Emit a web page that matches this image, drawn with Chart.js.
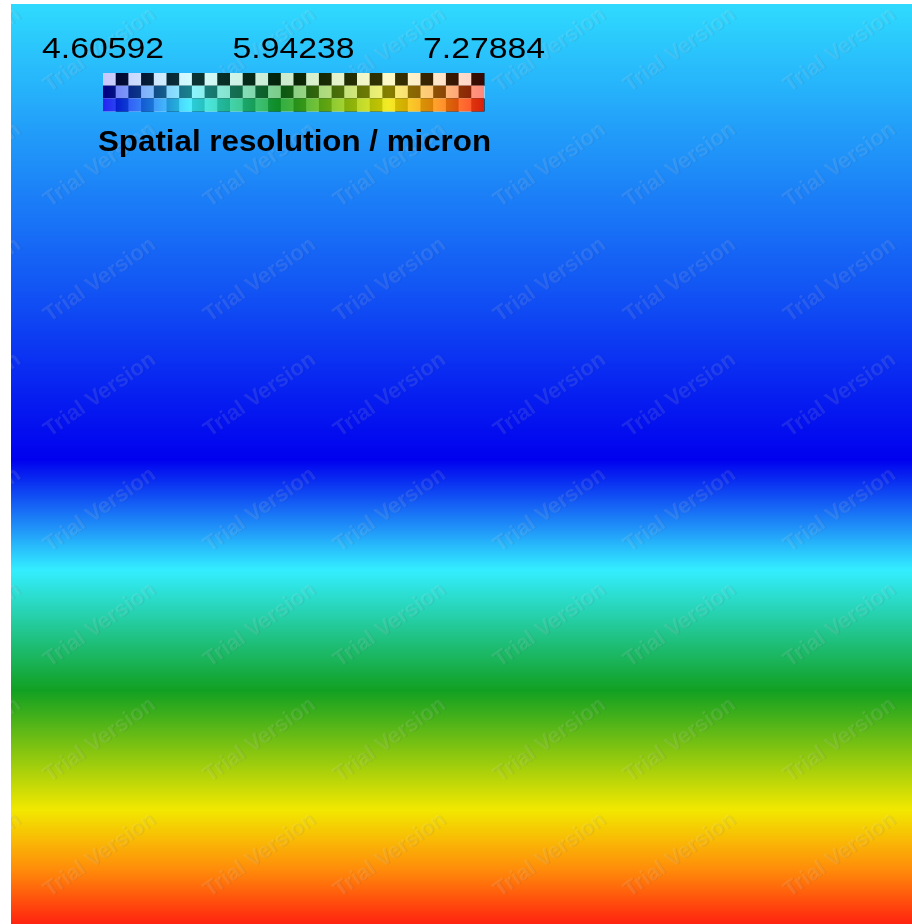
<!DOCTYPE html>
<html>
<head>
<meta charset="utf-8">
<script src="https://cdn.jsdelivr.net/npm/chart.js@4.4.1/dist/chart.umd.min.js"></script>
<style>
  html, body { margin: 0; padding: 0; background: #fff; }
  canvas { display: block; }
</style>
</head>
<body>
<canvas id="myChart" width="912" height="924"></canvas>
<script>
const ctx = document.getElementById('myChart');

// depth below the top edge of the map, and resolution at that depth
const depth = [0, 146, 296, 396, 456, 516, 566, 626, 686, 746, 806, 866, 920];
const resolution = [5.17, 4.99, 4.81, 4.68, 4.606, 4.94, 5.22, 5.54, 5.86, 6.24, 6.61, 6.96, 7.279];

// colour scale
const scaleMin = 4.60592;
const scaleMax = 7.27884;
const tickLabels = ['4.60592', '5.94238', '7.27884'];
const scaleTitle = 'Spatial resolution / micron';

const mapStops = [0, 0.23, 0.47, 0.75, 0.88, 1];
const mapColors = [[0, 0, 238], [51, 238, 255], [17, 160, 34], [242, 232, 0], [255, 140, 10], [255, 35, 15]];

function colorAt(v) {
  let t = (v - scaleMin) / (scaleMax - scaleMin);
  t = Math.max(0, Math.min(1, t));
  let i = 1;
  while (i < mapStops.length - 1 && t > mapStops[i]) i++;
  const f = (t - mapStops[i - 1]) / (mapStops[i] - mapStops[i - 1]);
  const a = mapColors[i - 1], b = mapColors[i];
  return 'rgb(' + a.map((c, k) => Math.round(c + (b[k] - c) * f)).join(',') + ')';
}

// vertical shading of the map, stops placed with the y scale
function mapGradient(context) {
  const chart = context.chart;
  if (!chart.chartArea) return null;
  const y = chart.scales.y;
  const top = y.getPixelForValue(depth[0]);
  const bot = y.getPixelForValue(depth[depth.length - 1]);
  const g = chart.ctx.createLinearGradient(0, top, 0, bot);
  const steps = 12;
  for (let i = 0; i < depth.length - 1; i++) {
    for (let s = 0; s <= steps; s++) {
      const d = depth[i] + (depth[i + 1] - depth[i]) * s / steps;
      const v = resolution[i] + (resolution[i + 1] - resolution[i]) * s / steps;
      const off = (y.getPixelForValue(d) - top) / (bot - top);
      g.addColorStop(Math.max(0, Math.min(1, off)), colorAt(v));
    }
  }
  return g;
}

// faint "Trial Version" stamps across the map
const stampCols = [-35, 100, 260, 390, 550, 680, 840];
const stampRows = [50, 165, 280, 395, 510, 625, 740, 855];
const stampPlugin = {
  id: 'stamps',
  afterDatasetsDraw(chart) {
    const c = chart.ctx;
    const area = chart.chartArea;
    c.save();
    c.beginPath();
    c.rect(area.left, area.top, area.right - area.left, area.bottom - area.top);
    c.clip();
    c.font = 'bold 22px "Liberation Sans", Arial, sans-serif';
    c.textAlign = 'center';
    c.textBaseline = 'middle';
    stampRows.forEach(ry => {
      stampCols.forEach(cx => {
        c.save();
        c.translate(cx, ry);
        c.rotate(-0.61);
        c.fillStyle = 'rgba(0,0,40,0.05)';
        c.fillText('Trial Version', 1, 1);
        c.fillStyle = 'rgba(255,255,255,0.1)';
        c.fillText('Trial Version', 0, 0);
        c.restore();
      });
    });
    c.restore();
  }
};

// text squeezed/stretched to a given width
function fitText(c, text, x, y, width, font, align) {
  c.save();
  c.font = font;
  const m = c.measureText(text).width;
  c.translate(x, y);
  c.scale(width / m, 1);
  c.textAlign = align;
  c.textBaseline = 'alphabetic';
  c.fillText(text, 0, 0);
  c.restore();
}

// colour bar with checkerboard rows
const barBox = { x: 103, y: 73, w: 381, h: 38, cols: 30, rows: 3 };
const rowAlpha = [0.22, 0.55, 0.86];
const colorBarPlugin = {
  id: 'colorBar',
  afterDraw(chart) {
    const c = chart.ctx;
    const b = barBox;
    const cw = b.w / b.cols, rh = b.h / b.rows;
    const g = c.createLinearGradient(b.x, 0, b.x + b.w, 0);
    for (let k = 0; k <= 60; k++) {
      g.addColorStop(k / 60, colorAt(scaleMin + (scaleMax - scaleMin) * k / 60));
    }
    c.save();
    for (let r = 0; r < b.rows; r++) {
      for (let col = 0; col < b.cols; col++) {
        c.fillStyle = (r + col) % 2 === 0 ? '#ffffff' : '#000000';
        c.fillRect(b.x + col * cw, b.y + r * rh, cw + 0.5, rh + 0.5);
      }
      c.globalAlpha = rowAlpha[r];
      c.fillStyle = g;
      c.fillRect(b.x, b.y + r * rh, b.w, rh + 0.5);
      c.globalAlpha = 1;
    }
    c.fillStyle = '#000';
    const centers = [b.x, b.x + b.w / 2, b.x + b.w];
    tickLabels.forEach((t, i) => {
      fitText(c, t, centers[i], 58, 122, '30px "Liberation Sans", Arial, sans-serif', 'center');
    });
    fitText(c, scaleTitle, 98, 151, 393, 'bold 29px "Liberation Sans", Arial, sans-serif', 'left');
    c.restore();
  }
};

new Chart(ctx, {
  type: 'bar',
  data: {
    labels: ['map'],
    datasets: [{
      data: [[depth[0], depth[depth.length - 1]]],
      backgroundColor: mapGradient,
      borderWidth: 0,
      barPercentage: 1,
      categoryPercentage: 1
    }]
  },
  options: {
    responsive: false,
    animation: false,
    layout: { padding: { left: 11, top: 4, right: 0, bottom: 0 } },
    scales: {
      x: { display: false },
      y: { display: false, min: 0, max: 920, reverse: true }
    },
    plugins: {
      legend: { display: false },
      tooltip: { enabled: false }
    }
  },
  plugins: [stampPlugin, colorBarPlugin]
});
</script>
</body>
</html>
